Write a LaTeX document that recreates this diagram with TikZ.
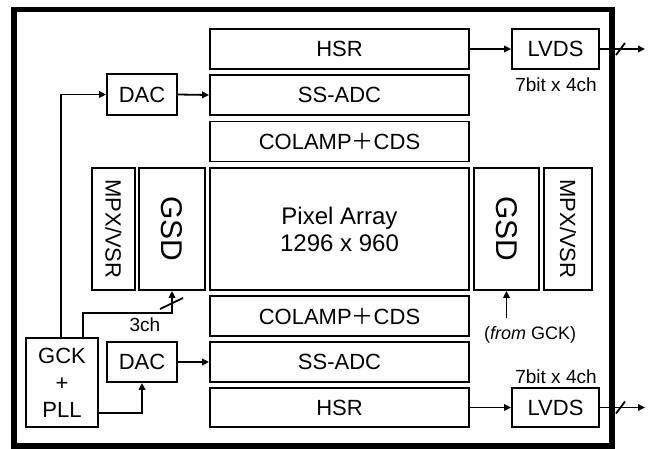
\documentclass[tikz,border=0pt]{standalone}
\usepackage{fontspec}
\setmainfont{Liberation Sans}
\newfontfamily\cjkfont{Noto Sans CJK JP}
\usetikzlibrary{arrows.meta}
\begin{document}
\begin{tikzpicture}[x=1pt,y=-1pt,
  box/.style={draw,line width=1.8pt,inner sep=0pt,align=center,font=\fontsize{22}{27}\selectfont},
  arr/.style={line width=1.8pt,-{Triangle[length=7pt,width=6.5pt]}},
  wire/.style={line width=1.8pt},
  small/.style={inner sep=0pt,font=\fontsize{19}{22}\selectfont},
  rot/.style={rotate=-90,inner sep=0pt}]
\useasboundingbox (0,0) rectangle (655,449);
\fill[white] (0,0) rectangle (655,449);
\draw[line width=5.5pt] (14,9.5) rectangle (612,446);

% column blocks
\node[box,minimum width=259,minimum height=40] (hsrT) at (339.5,49) {HSR};
\node[box,minimum width=259,minimum height=40] (adcT) at (339.5,95) {SS-ADC};
\node[box,minimum width=259,minimum height=40] (colT) at (339.5,141.5) {COLAMP{\cjkfont ＋}CDS};
\node[box,minimum width=259,minimum height=122] (pix) at (339.5,229) {\fontsize{24}{30}\selectfont Pixel Array\\ \fontsize{24}{30}\selectfont 1296 x 960};
\node[box,minimum width=259,minimum height=40] (colB) at (339.5,316) {COLAMP{\cjkfont ＋}CDS};
\node[box,minimum width=259,minimum height=40] (adcB) at (339.5,362) {SS-ADC};
\node[box,minimum width=259,minimum height=39] (hsrB) at (339.5,407.5) {HSR};

% side blocks
\node[box,minimum width=43,minimum height=122] (mpxL) at (113.5,229) {};
\node[rot,font=\fontsize{22}{26}\selectfont] at (mpxL) {MPX/VSR};
\node[box,minimum width=66,minimum height=122] (gsdL) at (172,229) {};
\node[rot,font=\fontsize{30}{34}\selectfont] at (gsdL) {GSD};
\node[box,minimum width=65,minimum height=122] (gsdR) at (506.5,229) {};
\node[rot,font=\fontsize{30}{34}\selectfont] at (gsdR) {GSD};
\node[box,minimum width=48,minimum height=122] (mpxR) at (568,229) {};
\node[rot,font=\fontsize{22}{26}\selectfont] at (mpxR) {MPX/VSR};

% DACs, LVDS, GCK
\node[box,minimum width=70,minimum height=41] (dacT) at (142,94.5) {DAC};
\node[box,minimum width=70,minimum height=40] (dacB) at (142,362) {DAC};
\node[box,minimum width=87,minimum height=40] (lvdsT) at (555.5,49) {LVDS};
\node[box,minimum width=87,minimum height=39] (lvdsB) at (555.5,407.5) {LVDS};
\node[box,minimum width=72,minimum height=89] (gck) at (62,382.5) {GCK\\+\\PLL};

% labels
\node[small] (lblT) at (556,85) {7bit x 4ch};
\node[small] (lblB) at (556,377) {7bit x 4ch};
\node[small] (lbl3) at (145,325) {3ch};
\coordinate (fg) at (506.5,318);
\node[inner sep=0pt,font=\fontsize{18}{21}\selectfont] (lblF) at (530,335) {(\textit{from} GCK)};

% connectors
\draw[arr] (hsrT.east) -- (lvdsT.west);
\draw[arr] (hsrB.east) -- (lvdsB.west);
\coordinate (outT) at (645,49);
\coordinate (outB) at (645,407.5);
\draw[arr] (lvdsT.east) -- (outT);
\draw[arr] (lvdsB.east) -- (outB);
\draw[wire] (616,55) -- (625,43);
\draw[wire] (616,413.5) -- (625,401.5);

\draw[arr] ([xshift=-1]gck.north) |- (dacT.west);
\draw[arr] (dacT.east) -- (adcT.west);
\coordinate (k3) at (172,313);
\draw[arr] ([xshift=21]gck.north) |- (k3) -- (gsdL.south);
\draw[wire] (160,309) -- (183,298);
\draw[arr] ([yshift=-30.5]gck.east) -| (dacB.south);
\draw[arr] (dacB.east) -- (adcB.west);
\draw[arr] (fg) -- (gsdR.south);
\end{tikzpicture}
\end{document}
